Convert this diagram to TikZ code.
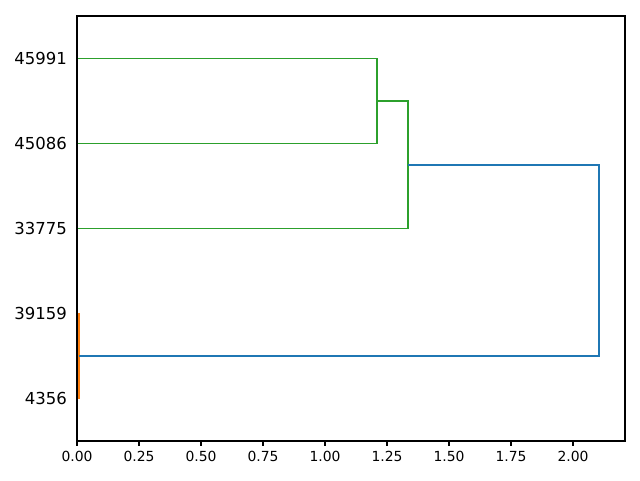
\documentclass[tikz,border=0pt]{standalone}
\usepackage{fontspec}
\setmainfont{DejaVu Sans}
\definecolor{tabblue}{HTML}{1F77B4}
\definecolor{taborange}{HTML}{FF7F0E}
\definecolor{tabgreen}{HTML}{2CA02C}
\begin{document}
\begin{tikzpicture}[x=1pt,y=1pt,
    link/.style={line width=1.9pt},
    leaflabel/.style={anchor=east, inner sep=0pt, xshift=-10pt, font=\fontsize{16.5}{16.5}\selectfont},
    ticklabel/.style={anchor=north, inner sep=0pt, yshift=-4.5pt, font=\fontsize{13.9}{13.9}\selectfont}]
    \useasboundingbox (0,0) rectangle (640,480);
    \begin{scope}[shift={(77,39)}, x=248pt, y=8.5pt]
    \coordinate (l45991) at (0,45);
    \coordinate (l45086) at (0,35);
    \coordinate (l33775) at (0,25);
    \coordinate (l39159) at (0,15);
    \coordinate (l4356) at (0,5);
    \coordinate (m1) at (0.008,10);
    \coordinate (m2) at (1.21,40);
    \coordinate (m3) at (1.335,32.5);
    \coordinate (m4) at (2.105,20);
    \draw[link, tabgreen] (l45991) -| (m2) |- (l45086);
    \draw[link, tabgreen] (m2) -| (m3) |- (l33775);
    \draw[link, taborange] (l39159) -| (m1) |- (l4356);
    \draw[link, tabblue] (m3) -| (m4) |- (m1);
    \draw[line width=1.1pt] (0,0) rectangle (2.2097,50);
    \node[leaflabel] (t45991) at (l45991) {45991};
    \node[leaflabel] (t45086) at (l45086) {45086};
    \node[leaflabel] (t33775) at (l33775) {33775};
    \node[leaflabel] (t39159) at (l39159) {39159};
    \node[leaflabel] (t4356) at (l4356) {4356};
    \foreach \v/\t in {0/0.00, 0.25/0.25, 0.5/0.50, 0.75/0.75, 1/1.00, 1.25/1.25, 1.5/1.50, 1.75/1.75, 2/2.00}
        \draw[line width=1.1pt] (\v,0) -- ++(0,-4.9pt) node[ticklabel] {\t};
    \end{scope}
\end{tikzpicture}
\end{document}
